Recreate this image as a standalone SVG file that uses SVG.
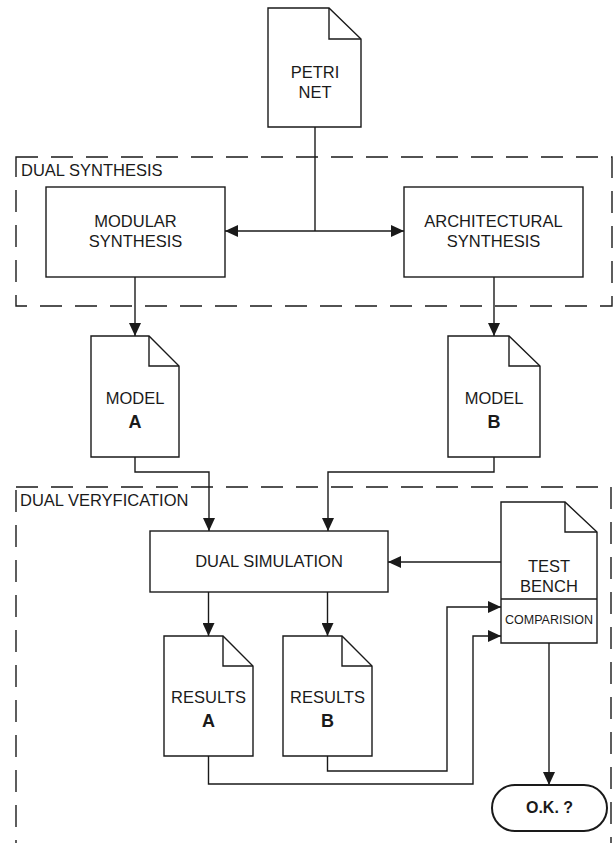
<svg xmlns="http://www.w3.org/2000/svg" width="616" height="843" viewBox="0 0 616 843">
<defs>
<marker id="ah" markerUnits="userSpaceOnUse" markerWidth="14" markerHeight="12" refX="13" refY="6" orient="auto">
<path d="M0,0 L13,6 L0,12 Z" fill="#1a1a1a"/>
</marker>
<style>
.s{fill:#fff;stroke:#1a1a1a;stroke-width:1.4}
.d{fill:none;stroke:#1a1a1a;stroke-width:1.4;stroke-dasharray:22 13}
.c{fill:none;stroke:#1a1a1a;stroke-width:1.4}
.a{marker-end:url(#ah)}
text{font-family:"Liberation Sans",Arial,sans-serif;fill:#1a1a1a}
.t{font-size:16.5px;text-anchor:middle}
.b{font-size:18px;font-weight:bold;text-anchor:middle}
.g{font-size:16.5px}
.sm{font-size:12.5px;text-anchor:middle}
</style>
</defs>
<g id="groups">
<rect class="d" x="16" y="157" width="596" height="149"/>
<text class="g" x="21" y="176">DUAL SYNTHESIS</text>
<rect class="d" x="16" y="487" width="595" height="380"/>
<text class="g" x="20" y="506">DUAL VERYFICATION</text>
</g>
<g id="connectors">
<path class="c" d="M315,127 V231"/>
<path class="c a" d="M315,231 H225"/>
<path class="c a" d="M315,231 H404"/>
<path class="c a" d="M135,277 V336"/>
<path class="c a" d="M494,277 V336"/>
<path class="c a" d="M135,457 V472 H209 V531"/>
<path class="c a" d="M494,457 V472 H328 V531"/>
<path class="c a" d="M501,562 H388"/>
<path class="c a" d="M208.5,592 V636"/>
<path class="c a" d="M327.5,592 V636"/>
<path class="c a" d="M208.5,756 V784 H473 V636 H501"/>
<path class="c a" d="M327.5,756 V771 H447 V607 H501"/>
<path class="c a" d="M549,643 V785"/>
</g>
<g id="petri">
<path class="s" d="M268,8 H329 L361,39 V127 H268 Z"/>
<path class="c" d="M329,8 V39 H361"/>
<text class="t" x="315" y="78">PETRI</text>
<text class="t" x="315" y="98">NET</text>
</g>
<g id="modular">
<rect class="s" x="46" y="187" width="179" height="90"/>
<text class="t" x="135.5" y="227">MODULAR</text>
<text class="t" x="135.5" y="247">SYNTHESIS</text>
</g>
<g id="architectural">
<rect class="s" x="404" y="187" width="179" height="90"/>
<text class="t" x="493.5" y="227">ARCHITECTURAL</text>
<text class="t" x="493.5" y="247">SYNTHESIS</text>
</g>
<g id="modelA">
<path class="s" d="M91,336 H149 L179,366 V457 H91 Z"/>
<path class="c" d="M149,336 V366 H179"/>
<text class="t" x="135" y="404">MODEL</text>
<text class="b" x="135" y="428">A</text>
</g>
<g id="modelB">
<path class="s" d="M448,336 H509 L540,366 V457 H448 Z"/>
<path class="c" d="M509,336 V366 H540"/>
<text class="t" x="494" y="404">MODEL</text>
<text class="b" x="494" y="428">B</text>
</g>
<g id="dualsim">
<rect class="s" x="150" y="531" width="238" height="61"/>
<text class="t" x="269" y="567">DUAL SIMULATION</text>
</g>
<g id="testbench">
<path class="s" d="M501,502 H565 L597,532 V643 H501 Z"/>
<path class="c" d="M565,502 V532 H597 M501,599 H597"/>
<text class="t" x="549" y="572">TEST</text>
<text class="t" x="549" y="592">BENCH</text>
<text class="sm" x="549" y="624">COMPARISION</text>
</g>
<g id="resultsA">
<path class="s" d="M164,636 H223 L253,666 V756 H164 Z"/>
<path class="c" d="M223,636 V666 H253"/>
<text class="t" x="208.5" y="703">RESULTS</text>
<text class="b" x="208.5" y="727">A</text>
</g>
<g id="resultsB">
<path class="s" d="M283,636 H342 L372,666 V756 H283 Z"/>
<path class="c" d="M342,636 V666 H372"/>
<text class="t" x="327.5" y="703">RESULTS</text>
<text class="b" x="327.5" y="727">B</text>
</g>
<g id="ok">
<rect x="492" y="785" width="115" height="46" rx="23" ry="23" fill="#fff" stroke="#1a1a1a" stroke-width="2"/>
<text class="b" style="font-size:16px" x="549.5" y="813">O.K. ?</text>
</g>
</svg>
